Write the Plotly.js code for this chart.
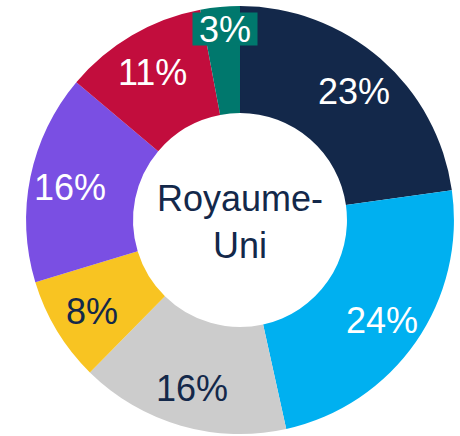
<!DOCTYPE html>
<html>
<head>
<meta charset="utf-8">
<script src="https://cdn.plot.ly/plotly-3.0.1.min.js"></script>
<style>html,body{margin:0;padding:0;background:#fff;}#chart{width:460px;height:436px;}</style>
</head>
<body>
<div id="chart"></div>
<script>
var categories = ["A", "B", "C", "D", "E", "F", "G"];
var values = [23, 24, 16, 8, 16, 11, 3];
var colors = ["#13284A", "#00B0F0", "#CCCCCC", "#F8C422", "#7A4FE3", "#C20D3D", "#00786D"];
var textColors = ["#FFFFFF", "#FFFFFF", "#13284A", "#13284A", "#FFFFFF", "#FFFFFF", "#FFFFFF"];
var centerLabel = "Royaume-<br>Uni";

var W = 460, H = 436;
var dom = { x: [0.0565, 0.987], y: [0.0046, 0.986] };
var FONT = "Liberation Sans, Arial, sans-serif";

var trace = {
  type: "pie",
  labels: categories,
  values: values,
  textinfo: "none",
  hole: 0.5,
  sort: false,
  direction: "clockwise",
  rotation: 0,
  marker: { colors: colors, line: { width: 0 } },
  domain: dom,
  showlegend: false,
  hoverinfo: "none"
};

// geometry of the pie derived from its domain (Plotly: radius = half the smaller side)
var cx = (dom.x[0] + dom.x[1]) / 2 * W;
var cy = (1 - (dom.y[0] + dom.y[1]) / 2) * H;
var R = Math.min((dom.x[1] - dom.x[0]) * W, (dom.y[1] - dom.y[0]) * H) / 2;
var total = values.reduce(function (a, b) { return a + b; }, 0);

var annotations = [{
  text: centerLabel,
  x: cx / W, y: 1 - (cy + 2) / H, xref: "paper", yref: "paper",
  xanchor: "center", yanchor: "middle",
  showarrow: false,
  font: { family: FONT, size: 36, color: "#13284A" }
}];

var cum = 0;
values.forEach(function (v, i) {
  var mid = (cum + v / 2) / total * 2 * Math.PI;
  cum += v;
  var last = i === values.length - 1;
  if (!last) {
    var r = 0.81 * R;
    var px = cx + r * Math.sin(mid);
    var py = cy - r * Math.cos(mid);
    annotations.push({
      text: v + "%",
      x: px / W, y: 1 - (py + 2) / H, xref: "paper", yref: "paper",
      xanchor: "center", yanchor: "middle",
      showarrow: false,
      font: { family: FONT, size: 36, color: textColors[i] }
    });
  } else {
    annotations.push({
      text: v + "%",
      x: (cx - 15) / W, y: 1 - 29 / H, xref: "paper", yref: "paper",
      xanchor: "center", yanchor: "middle",
      showarrow: false,
      bgcolor: colors[i],
      width: 64, height: 32, borderpad: 0,
      font: { family: FONT, size: 36, color: textColors[i] }
    });
  }
});

var layout = {
  width: W,
  height: H,
  margin: { l: 0, r: 0, t: 0, b: 0 },
  paper_bgcolor: "#FFFFFF",
  showlegend: false,
  annotations: annotations
};

Plotly.newPlot("chart", [trace], layout, { displayModeBar: false, staticPlot: true });
</script>
</body>
</html>
